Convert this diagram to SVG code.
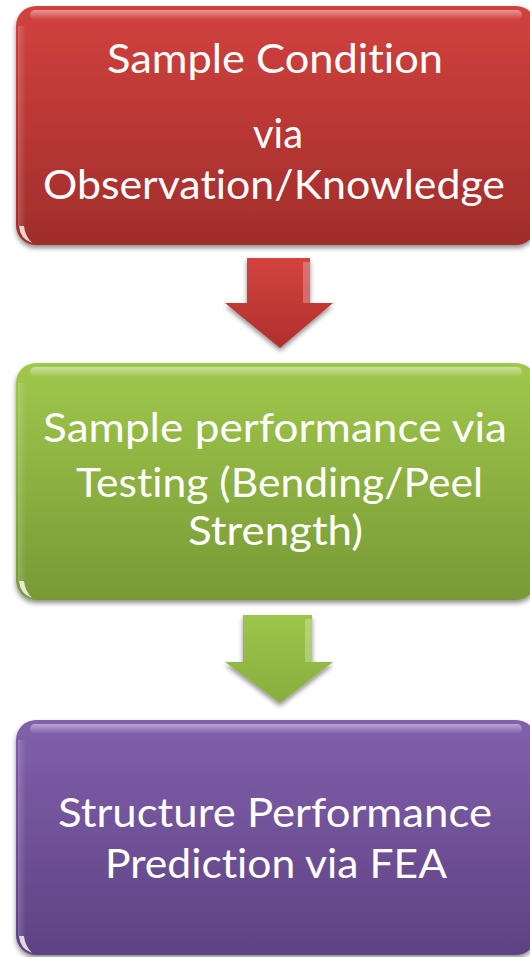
<svg xmlns="http://www.w3.org/2000/svg" width="530" height="957" viewBox="0 0 530 957">
<defs>
<linearGradient id="gRed" x1="0" y1="0" x2="0" y2="1"><stop offset="0" stop-color="#D2423E"/><stop offset="1" stop-color="#A02D2B"/></linearGradient>
<linearGradient id="gGreen" x1="0" y1="0" x2="0" y2="1"><stop offset="0" stop-color="#A0C84C"/><stop offset="1" stop-color="#789935"/></linearGradient>
<linearGradient id="gPurple" x1="0" y1="0" x2="0" y2="1"><stop offset="0" stop-color="#8160AC"/><stop offset="1" stop-color="#5E4282"/></linearGradient>
<linearGradient id="aRed" x1="0" y1="0" x2="0" y2="1"><stop offset="0" stop-color="#D3443F"/><stop offset="1" stop-color="#B02F2D"/></linearGradient>
<linearGradient id="aGreen" x1="0" y1="0" x2="0" y2="1"><stop offset="0" stop-color="#9CC64A"/><stop offset="1" stop-color="#88AE3E"/></linearGradient>
<linearGradient id="hl" x1="0" y1="0" x2="0" y2="1"><stop offset="0" stop-color="#fff" stop-opacity="0.45"/><stop offset="1" stop-color="#fff" stop-opacity="0"/></linearGradient>
<linearGradient id="lh" x1="0" y1="0" x2="1" y2="0"><stop offset="0" stop-color="#fff" stop-opacity="0.18"/><stop offset="1" stop-color="#fff" stop-opacity="0"/></linearGradient>
<filter id="sh" x="-5%" y="-5%" width="110%" height="112%"><feGaussianBlur in="SourceAlpha" stdDeviation="2.5"/><feOffset dx="0" dy="3"/><feComponentTransfer><feFuncA type="linear" slope="0.45"/></feComponentTransfer><feMerge><feMergeNode/><feMergeNode in="SourceGraphic"/></feMerge></filter>
</defs>
<style>
.t{font-family:Lato,"Open Sans","Liberation Sans",sans-serif;font-size:40px;fill:#fff;font-variant-ligatures:none;font-feature-settings:"liga" 0,"clig" 0}
.hl{fill:url(#hl)}
.lh{fill:url(#lh)}
.spot{fill:#fff;opacity:0.8}
</style>
<rect width="530" height="957" fill="#fff"/>
<g id="connectors">
<path filter="url(#sh)" fill="url(#aRed)" d="M247 258 H310 V303 H333 L280 348 L225 303 H247 Z"/>
<path fill="#fff" opacity="0.25" d="M303 262 H310 V303 H303 Z"/>
<path filter="url(#sh)" fill="url(#aGreen)" d="M243 615 H312 V662 H333 L280 703 L225 662 H243 Z"/>
<path fill="#fff" opacity="0.25" d="M305 619 H312 V662 H305 Z"/>
</g>
<g id="node1">
<rect filter="url(#sh)" x="16" y="6" width="520" height="239" rx="20" fill="url(#gRed)"/>
<rect class="hl" x="30" y="10" width="492" height="10" rx="5"/>
<rect class="lh" x="18" y="26" width="8" height="200"/>
<path class="spot" d="M19 226 Q20 239 32 243 Q25 236 24 226 Z"/>
<text class="t" x="107" y="73" textLength="336" lengthAdjust="spacingAndGlyphs">Sample Condition</text>
<text class="t" x="253" y="148" textLength="50" lengthAdjust="spacingAndGlyphs">via</text>
<text class="t" x="43" y="199" textLength="462" lengthAdjust="spacingAndGlyphs">Observation/Knowledge</text>
</g>
<g id="node2">
<rect filter="url(#sh)" x="16" y="363" width="520" height="237" rx="20" fill="url(#gGreen)"/>
<rect class="hl" x="30" y="367" width="492" height="10" rx="5"/>
<rect class="lh" x="18" y="383" width="8" height="198"/>
<path class="spot" d="M19 581 Q20 594 32 598 Q25 591 24 581 Z"/>
<text class="t" x="43" y="442" textLength="464" lengthAdjust="spacingAndGlyphs">Sample performance via</text>
<text class="t" x="76" y="497" textLength="407" lengthAdjust="spacingAndGlyphs">Testing (Bending/Peel</text>
<text class="t" x="188" y="545" textLength="175" lengthAdjust="spacingAndGlyphs">Strength)</text>
</g>
<g id="node3">
<rect filter="url(#sh)" x="16" y="720" width="520" height="235" rx="20" fill="url(#gPurple)"/>
<rect class="hl" x="30" y="724" width="492" height="10" rx="5"/>
<rect class="lh" x="18" y="740" width="8" height="196"/>
<path class="spot" d="M19 936 Q20 949 32 953 Q25 946 24 936 Z"/>
<text class="t" x="58" y="827" textLength="434" lengthAdjust="spacingAndGlyphs">Structure Performance</text>
<text class="t" x="105" y="878" textLength="342" lengthAdjust="spacingAndGlyphs">Prediction via FEA</text>
</g>
</svg>
